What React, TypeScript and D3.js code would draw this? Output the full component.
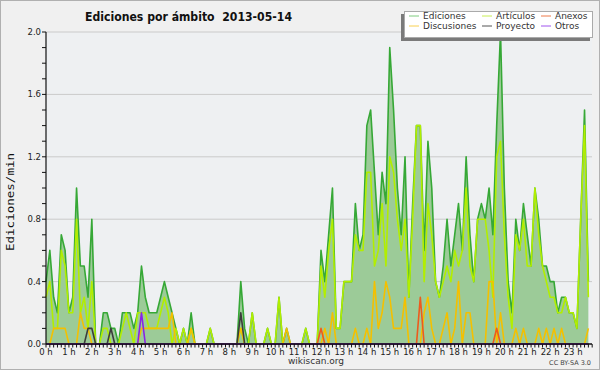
import React from 'react';
import * as d3 from 'd3';

// edits per minute, one value every 10 minutes (00:00 .. 23:40)
const ediciones = [
  0.4, 0.6, 0.3, 0.2, 0.7, 0.6, 0.2, 0.3, 1.0, 0.5,
  0.5, 0.3, 0.8, 0, 0, 0.2, 0.2, 0.1, 0.1, 0,
  0.2, 0.2, 0.2, 0.1, 0.2, 0.5, 0.3, 0.2, 0.2, 0.2,
  0.3, 0.4, 0.3, 0.2, 0.1, 0, 0.1, 0, 0.2, 0,
  0, 0, 0, 0.1, 0, 0, 0, 0, 0, 0,
  0, 0.4, 0.1, 0, 0.2, 0, 0, 0, 0.1, 0,
  0, 0.3, 0, 0.1, 0, 0, 0, 0, 0.1, 0,
  0, 0, 0.6, 0.4, 0.7, 1.0, 0.1, 0.1, 0.4, 0.4,
  0.4, 0.9, 0.6, 0.7, 1.4, 1.5, 1.1, 0.7, 1.1, 0.9,
  1.9, 1.5, 1.0, 0.7, 1.2, 0.3, 0.9, 1.4, 1.4, 0.6,
  1.3, 1.0, 0.4, 0.3, 0.5, 0.8, 0.5, 0.7, 0.9, 0.6,
  1.2, 0.7, 0.4, 0.8, 0.9, 0.8, 1.0, 0.7, 1.4, 2.0,
  1.0, 0.4, 0.2, 0.8, 0.6, 0.9, 0.7, 0.5, 1.0, 0.8,
  0.5, 0.5, 0.4, 0.4, 0.2, 0.3, 0.3, 0.2, 0.2, 0.1,
  0.8, 1.5, 0.4,
];

const articulos = [
  0.3, 0.4, 0.1, 0.1, 0.6, 0.5, 0.2, 0.2, 0.8, 0.2,
  0.3, 0.1, 0.4, 0, 0, 0.1, 0.1, 0, 0, 0,
  0.1, 0.2, 0.1, 0, 0.2, 0.2, 0.2, 0.1, 0.1, 0.1,
  0.2, 0.3, 0.2, 0, 0.1, 0, 0.1, 0, 0.1, 0,
  0, 0, 0, 0.1, 0, 0, 0, 0, 0, 0,
  0, 0.1, 0, 0, 0.2, 0, 0, 0, 0.1, 0,
  0, 0.3, 0, 0, 0, 0, 0, 0, 0.1, 0,
  0, 0, 0.5, 0.3, 0.6, 0.8, 0.1, 0.1, 0.4, 0.4,
  0.4, 0.7, 0.6, 0.6, 1.1, 1.1, 0.5, 0.6, 0.9, 0.5,
  1.2, 1.1, 0.8, 0.6, 0.8, 0.3, 0.8, 1.4, 1.4, 0.4,
  0.9, 0.7, 0.4, 0.3, 0.4, 0.5, 0.4, 0.6, 0.5, 0.6,
  1.0, 0.5, 0.4, 0.8, 0.8, 0.8, 0.6, 0.3, 1.2, 1.3,
  0.7, 0.3, 0.1, 0.7, 0.6, 0.8, 0.5, 0.5, 1.0, 0.7,
  0.5, 0.4, 0.3, 0.3, 0.2, 0.2, 0.3, 0.2, 0.2, 0.1,
  0.8, 1.4, 0.3,
];

const discusiones = [
  0, 0, 0.1, 0.1, 0.1, 0.1, 0, 0, 0, 0.2,
  0.1, 0.1, 0, 0, 0, 0, 0, 0, 0, 0,
  0, 0, 0, 0, 0, 0.1, 0.1, 0.1, 0.1, 0.1,
  0.1, 0.1, 0.1, 0.2, 0, 0, 0, 0, 0.1, 0,
  0, 0, 0, 0, 0, 0, 0, 0, 0, 0,
  0, 0.1, 0, 0, 0, 0, 0, 0, 0, 0,
  0, 0, 0, 0.1, 0, 0, 0, 0, 0, 0,
  0, 0, 0, 0.1, 0, 0.2, 0, 0, 0, 0,
  0, 0.1, 0, 0, 0.1, 0, 0.4, 0.1, 0.2, 0.4,
  0.3, 0.1, 0.1, 0.1, 0.3, 0, 0, 0, 0, 0.2,
  0.3, 0.1, 0, 0, 0.1, 0.2, 0, 0.1, 0.4, 0,
  0.2, 0.2, 0, 0, 0, 0, 0.4, 0.4, 0, 0.2,
  0, 0, 0, 0.1, 0, 0.1, 0, 0, 0, 0.1,
  0, 0.1, 0, 0.1, 0, 0.1, 0, 0, 0, 0,
  0, 0, 0.1,
];

const anexos = [
  0, 0, 0, 0, 0, 0, 0, 0, 0, 0,
  0, 0, 0, 0, 0, 0, 0, 0, 0, 0,
  0, 0, 0, 0, 0, 0, 0, 0, 0, 0,
  0, 0, 0, 0, 0, 0, 0, 0, 0, 0,
  0, 0, 0, 0, 0, 0, 0, 0, 0, 0,
  0, 0, 0, 0, 0, 0, 0, 0, 0, 0,
  0, 0, 0, 0, 0, 0, 0, 0, 0, 0,
  0, 0, 0.1, 0, 0, 0, 0, 0, 0, 0,
  0, 0, 0, 0, 0, 0, 0, 0, 0, 0,
  0, 0, 0, 0, 0, 0, 0, 0, 0.3, 0,
  0, 0, 0, 0, 0, 0, 0, 0, 0, 0,
  0, 0, 0, 0, 0, 0, 0, 0, 0.1, 0,
  0, 0, 0, 0, 0, 0, 0, 0, 0, 0,
  0, 0, 0, 0, 0, 0, 0, 0, 0, 0,
  0, 0, 0,
];

const proyecto = [
  0, 0, 0, 0, 0, 0, 0, 0, 0, 0,
  0, 0.1, 0.1, 0, 0, 0, 0, 0.1, 0, 0,
  0, 0, 0, 0, 0, 0, 0, 0, 0, 0,
  0, 0, 0, 0, 0, 0, 0, 0, 0, 0,
  0, 0, 0, 0, 0, 0, 0, 0, 0, 0,
  0, 0.2, 0, 0, 0, 0, 0, 0, 0, 0,
  0, 0, 0, 0, 0, 0, 0, 0, 0, 0,
  0, 0, 0, 0, 0, 0, 0, 0, 0, 0,
  0, 0, 0, 0, 0, 0, 0, 0, 0, 0,
  0, 0, 0, 0, 0, 0, 0, 0, 0, 0,
  0, 0, 0, 0, 0, 0, 0, 0, 0, 0,
  0, 0, 0, 0, 0, 0, 0, 0, 0, 0,
  0, 0, 0, 0, 0, 0, 0, 0, 0, 0,
  0, 0, 0, 0, 0, 0, 0, 0, 0, 0,
  0, 0, 0,
];

const otros = [
  0, 0, 0, 0, 0, 0, 0, 0, 0, 0,
  0, 0, 0, 0, 0, 0, 0, 0, 0, 0,
  0, 0, 0, 0, 0, 0.2, 0, 0, 0, 0,
  0, 0, 0, 0, 0, 0, 0, 0, 0, 0,
  0, 0, 0, 0, 0, 0, 0, 0, 0, 0,
  0, 0, 0, 0, 0, 0, 0, 0, 0, 0,
  0, 0, 0, 0, 0, 0, 0, 0, 0, 0,
  0, 0, 0, 0, 0, 0, 0, 0, 0, 0,
  0, 0, 0, 0, 0, 0, 0, 0, 0, 0,
  0, 0, 0, 0, 0, 0, 0, 0, 0, 0,
  0, 0, 0, 0, 0, 0, 0, 0, 0, 0,
  0, 0, 0, 0, 0, 0, 0, 0, 0, 0,
  0, 0, 0, 0, 0, 0, 0, 0, 0, 0,
  0, 0, 0, 0, 0, 0, 0, 0, 0, 0,
  0, 0, 0,
];

const hourLabels = d3.range(24).map(h => `${h} h`);
const yTicks = [0, 0.4, 0.8, 1.2, 1.6, 2.0];

// drawing order: total first, small namespaces on top
const series = [
  { name: 'Ediciones', values: ediciones, color: '#36a836', legend: '#7fcc7f' },
  { name: 'Artículos', values: articulos, color: '#b2ee00', legend: '#c8ee55' },
  { name: 'Discusiones', values: discusiones, color: '#f4c000', legend: '#f8d050' },
  { name: 'Anexos', values: anexos, color: '#ee5a1c', legend: '#ee7a4a' },
  { name: 'Proyecto', values: proyecto, color: '#3c3c3c', legend: '#555555' },
  { name: 'Otros', values: otros, color: '#8a22e6', legend: '#a055ee' },
];

// legend layout: two rows, three columns
const legendOrder = ['Ediciones', 'Artículos', 'Anexos', 'Discusiones', 'Proyecto', 'Otros'];
const legendCols = [409, 482, 541];
const legendRows = [19, 29];

const font = '"DejaVu Sans", sans-serif';

export default function App() {
  const left = 46, right = 592, top = 32, bottom = 344;

  const x = d3.scaleLinear().domain([0, 144]).range([left, 596]);
  const y = d3.scaleLinear().domain([0, 2]).range([bottom, top]);

  const line = d3.line<number>().x((_, i) => x(i)).y(d => y(d));
  const area = d3.area<number>().x((_, i) => x(i)).y0(y(0)).y1(d => y(d));

  const minorY = d3.range(0, 21).map(k => k / 10);
  const minorX = d3.range(0, 144);

  return (
    <svg width={600} height={370} style={{ position: 'absolute', left: 0, top: 0, display: 'block' }}>
      <rect x={0.5} y={0.5} width={599} height={369} fill="#f0f0f0" stroke="#b0b0b0" />
      <rect x={left} y={top} width={right - left} height={bottom - top} fill="#eef0f2" />

      {yTicks.slice(1).map(t => (
        <line key={t} x1={left} x2={right} y1={y(t)} y2={y(t)} stroke="#cacaca" strokeWidth={1} />
      ))}

      <path d={area(ediciones) || ''} fill="#9ccb98" />
      {series.map(s => (
        <path key={s.name} d={line(s.values) || ''} fill="none" stroke={s.color}
          strokeWidth={1.6} strokeLinejoin="round" />
      ))}

      {/* y axis */}
      <line x1={left} x2={left} y1={top} y2={bottom} stroke="#111" strokeWidth={1.2} />
      {minorY.map(t => (
        <line key={t} x1={left - 4} x2={left} y1={y(t)} y2={y(t)} stroke="#111" strokeWidth={1} />
      ))}
      {yTicks.map(t => (
        <text key={t} x={left - 5} y={y(t) + 3} textAnchor="end" fontFamily={font} fontSize={8.5} fill="#222">
          {t.toFixed(1)}
        </text>
      ))}
      <text transform={`translate(14,${(top + bottom) / 2 + 14}) rotate(-90)`} textAnchor="middle"
        fontFamily='"DejaVu Sans Mono", monospace' fontSize={11} fill="#111" textLength={98}
        lengthAdjust="spacingAndGlyphs">
        Ediciones/min
      </text>

      {/* x axis */}
      <line x1={left} x2={right} y1={bottom} y2={bottom} stroke="#111" strokeWidth={1.5} />
      {minorX.map(i => (
        <line key={i} x1={x(i)} x2={x(i)} y1={bottom} y2={bottom + 3.5} stroke="#111" strokeWidth={1} />
      ))}
      {hourLabels.map((lab, h) => (
        <text key={lab} x={x(h * 6)} y={bottom + 11} textAnchor="middle" fontFamily={font}
          fontSize={8.5} fill="#222">
          {lab}
        </text>
      ))}

      <text x={316} y={364} textAnchor="middle" fontFamily={font} fontSize={9} fill="#333">wikiscan.org</text>
      <text x={591} y={365} textAnchor="end" fontFamily={font} fontSize={6.5} fill="#444">CC BY-SA 3.0</text>

      <text x={85} y={21} fontFamily={font} fontWeight="bold" fontSize={12.5} fill="#111"
        textLength={207} lengthAdjust="spacingAndGlyphs" style={{ whiteSpace: 'pre' }}>
        {'Ediciones por ámbito  2013-05-14'}
      </text>

      {/* legend */}
      <rect x={401} y={14} width={189} height={27} fill="#7a7a7a" />
      <rect x={404.5} y={11.5} width={188} height={26} fill="#ffffff" stroke="#aaaaaa" />
      {legendOrder.map((name, k) => {
        const s = series.find(d => d.name === name)!;
        const cx = legendCols[k % 3];
        const cy = legendRows[Math.floor(k / 3)];
        return (
          <g key={name}>
            <line x1={cx} x2={cx + 10} y1={cy - 3} y2={cy - 3} stroke={s.legend} strokeWidth={1} />
            <text x={cx + 14} y={cy} fontFamily={font} fontSize={9} fill="#333">{name}</text>
          </g>
        );
      })}
    </svg>
  );
}
